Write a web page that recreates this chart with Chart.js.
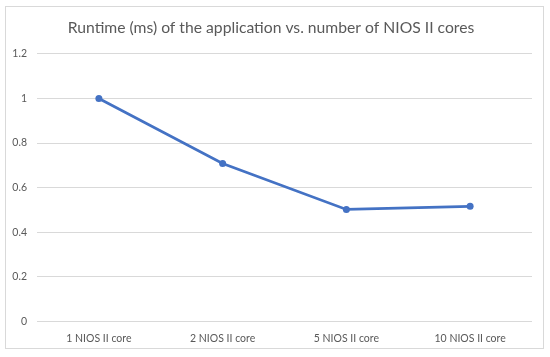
<!DOCTYPE html>
<html>
<head>
<meta charset="utf-8">
<script src="https://cdn.jsdelivr.net/npm/chart.js@4"></script>
<style>
  html, body { margin: 0; padding: 0; background: #fff; }
  body { width: 550px; height: 357px; position: relative; overflow: hidden; }
  .frame { position: absolute; left: 5px; top: 6px; width: 539px; height: 343px; border: 1px solid #d9d9d9; box-sizing: border-box; }
  #chart { position: absolute; left: 0; top: 0; }
</style>
</head>
<body>
<div class="frame"></div>
<canvas id="chart" width="550" height="357"></canvas>
<script>
  const categorias = ['1 NIOS II core', '2 NIOS II core', '5 NIOS II core', '10 NIOS II core'];
  const runtimeMs = [1.0, 0.708, 0.502, 0.516];
  const yTicks = [0, 0.2, 0.4, 0.6, 0.8, 1, 1.2];

  const gris = '#595959';
  const azul = '#4472C4';

  new Chart(document.getElementById('chart').getContext('2d'), {
    type: 'line',
    data: {
      labels: categorias,
      datasets: [{
        label: 'Runtime (ms)',
        data: runtimeMs,
        borderColor: azul,
        backgroundColor: azul,
        borderWidth: 2.75,
        pointRadius: 3.5,
        pointBorderWidth: 0,
        tension: 0,
      }],
    },
    options: {
      responsive: false,
      animation: false,
      layout: { padding: { left: 10, right: 18, top: 18, bottom: 9 } },
      plugins: {
        legend: { display: false },
        tooltip: { enabled: false },
        title: {
          display: true,
          text: 'Runtime (ms) of the application vs. number of NIOS II cores',
          color: gris,
          font: { family: 'Lato', size: 15.7, weight: 'normal' },
          padding: { top: 1, bottom: 16 },
        },
      },
      scales: {
        x: {
          offset: true,
          grid: { display: false },
          border: { display: false },
          ticks: { color: gris, font: { family: 'Lato', size: 10.5 }, padding: 3, maxRotation: 0 },
        },
        y: {
          min: 0, max: 1.2,
          afterBuildTicks: (ax) => { ax.ticks = yTicks.map((v) => ({ value: v })); },
          afterFit: (ax) => { ax.width = 27; },
          grid: { color: '#d9d9d9', lineWidth: 1, drawTicks: false },
          border: { display: false },
          ticks: {
            color: gris, font: { family: 'Lato', size: 10.5 }, padding: 10,
            callback: (v) => String(Math.round(v * 10) / 10),
          },
        },
      },
    },
  });
</script>
</body>
</html>
